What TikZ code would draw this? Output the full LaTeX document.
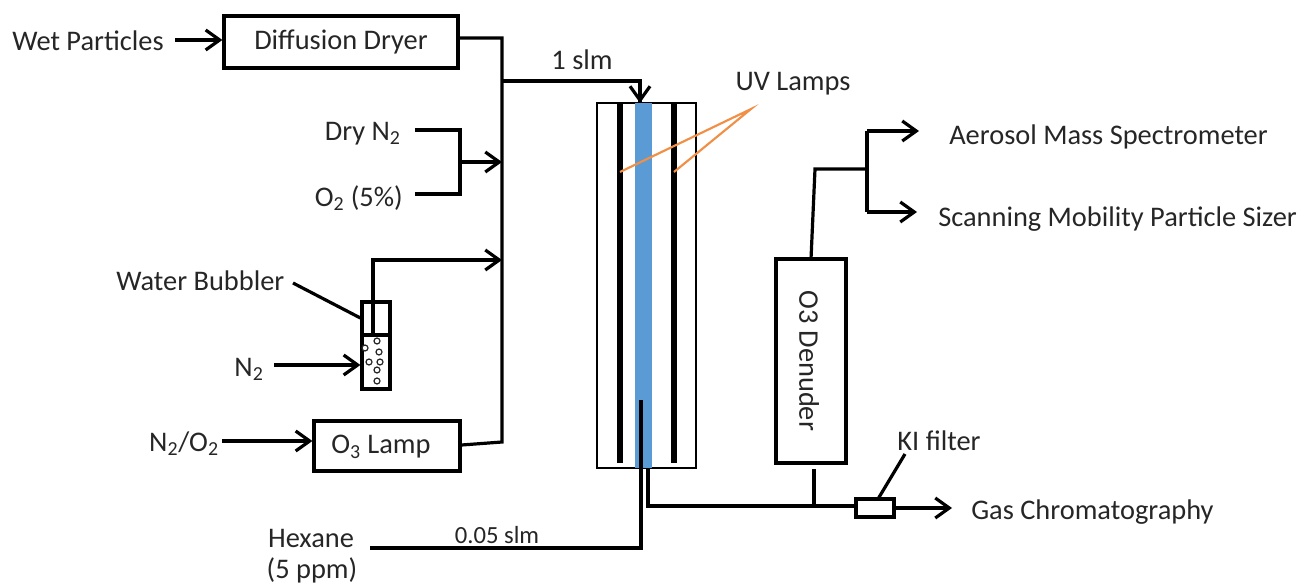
\documentclass[tikz,border=0pt]{standalone}
\usepackage{fontspec}
\setmainfont{Carlito}
\usetikzlibrary{arrows.meta}
\definecolor{txt}{HTML}{262626}
\definecolor{tube}{HTML}{5B9BD5}
\definecolor{uvline}{HTML}{F08F45}
\newcommand{\sbs}[1]{\textsubscript{#1}}
\tikzset{
  pipe/.style={draw=black,line width=2.4pt,line join=miter},
  flow/.style={pipe,-{Straight Barb[length=10.5pt,width=15pt,line width=2.4pt]}},
  boxa/.style={draw=black,line width=2.4pt,fill=white,inner sep=0pt,text=txt},
  thin wall/.style={draw=black,line width=1.4pt},
  lab/.style={text=txt,inner sep=0pt,font=\fontsize{21.3}{24}\selectfont},
  smalllab/.style={text=txt,inner sep=0pt,font=\fontsize{18.5}{20}\selectfont},
  uv/.style={draw=uvline,line width=1.6pt},
  bub/.style={draw=black!85,line width=.9pt,fill=white}
}
\begin{document}
\begin{tikzpicture}[x=0.75pt,y=-0.75pt]
\useasboundingbox (0,0) rectangle (1302,584);
% reactor
\node[thin wall,fill=white,minimum width=74.25pt,minimum height=273.75pt,inner sep=0pt] (reactor) at (646.5,285.5) {};
\node[fill=tube,minimum width=12.75pt,minimum height=273.75pt,inner sep=0pt] (tubeb) at (643.5,285.5) {};
\coordinate (lampAt) at (620,103); \coordinate (lampAb) at (620,463);
\coordinate (lampBt) at (674,103); \coordinate (lampBb) at (674,463);
\draw[line width=3.8pt] (lampAt) -- (lampAb);
\draw[line width=3.8pt] (lampBt) -- (lampBb);
% boxes
\node[boxa,lab,minimum width=175.5pt,minimum height=39pt] (dryer) at (341,42) {Diffusion Dryer};
\node[boxa,minimum width=109.5pt,minimum height=37.5pt] (lamp) at (387,446) {};
\node[lab] (lamptxt) at (381,447) {O\sbs{3} Lamp};
\node[boxa,minimum width=52.5pt,minimum height=153pt] (denuder) at (811,361) {};
\node[lab,rotate=-90] (dentxt) at (809,361) {O3 Denuder};
\node[boxa,minimum width=28.5pt,minimum height=13.5pt] (ki) at (875,508) {};
\node[boxa,draw=black,minimum width=21pt,minimum height=65.25pt] (bubbler) at (376,345.5) {};
% labels
\node[lab,anchor=west] (wet) at (12,41) {Wet Particles};
\node[lab,anchor=east] (dry) at (401,134) {Dry N\sbs{2}};
\node[lab,anchor=east] (oxy) at (403,198) {O\sbs{2} (5\%)};
\node[lab,anchor=west] (wb) at (116,281) {Water Bubbler};
\node[lab] (ntwo) at (249,369) {N\sbs{2}};
\node[lab] (nto) at (184,444) {N\sbs{2}/O\sbs{2}};
\node[lab] (hexa) at (311,538) {Hexane};
\node[lab] (hexb) at (312,570) {(5 ppm)};
\node[smalllab] (slmb) at (497,535) {0.05 slm};
\node[lab] (slma) at (582,60) {1 slm};
\node[lab] (uvl) at (793,84) {UV Lamps};
\node[lab,anchor=west] (ams) at (949,137) {Aerosol Mass Spectrometer};
\node[lab,anchor=west] (smps) at (938,219) {Scanning Mobility Particle Sizer};
\node[lab,anchor=west] (gc) at (971,512) {Gas Chromatography};
\node[lab] (kit) at (939,441) {KI filter};
% coordinates
\coordinate (mtop) at (502,38);
\coordinate (mbot) at (502,442);
\coordinate (mout) at (502,81);
\coordinate (mbubb) at (502,260);
\coordinate (mdry) at (502,162);
\coordinate (bend) at (640,81);
\coordinate (rtop) at (640,103);
\coordinate (dra) at (415,130);
\coordinate (drb) at (460,130);
\coordinate (drc) at (460,194);
\coordinate (drd) at (415,194);
\coordinate (dre) at (460,162);
\coordinate (tubea) at (373,335);
\coordinate (tubeb2) at (373,260);
\coordinate (hex1) at (370,548);
\coordinate (hex2) at (641,548);
\coordinate (hex3) at (641,400);
\coordinate (out1) at (648,468);
\coordinate (out2) at (648,506);
\coordinate (out3) at (814,506);
\coordinate (out4) at (814,469);
\coordinate (den1) at (811,259);
\coordinate (den2) at (815,169);
\coordinate (spl) at (867,169);
\coordinate (spla) at (867,131);
\coordinate (splb) at (867,212);
\coordinate (uvtip) at (751,109);
\coordinate (uva) at (620,172);
\coordinate (uvb) at (674,172);
% manifold
\draw[pipe] (dryer.east |- mtop) -- (mtop) -- (mbot) -- (lamp.east |- 0,445);
\draw[pipe] (mout) -- (bend) -- (rtop);
\draw[flow] (bend) -- (rtop);
\draw[pipe] (dra) -- (drb) -- (drc) -- (drd);
\draw[flow] (dre) -- (mdry);
\draw[flow] (tubea) -- (tubeb2) -- (mbubb);
\draw[flow] (175,40) coordinate (wa) -- (dryer.west |- wa);
\draw[pipe] (293,283) coordinate (wbl) -- (bubbler.west |- 0,318);
\draw[flow] (274,365) coordinate (na) -- (bubbler.west |- na);
\draw[flow] (222,441) coordinate (nb) -- (lamp.west |- nb);
% bubbler internals
\draw[line width=2.4pt] (bubbler.west |- tubea) -- (bubbler.east |- tubea);
\foreach \p/\q in {377/341,365/348,379/352,369/362,380/362,377/370,377/381}
  \draw[bub] (\p,\q) circle (3);
% UV lines
\draw[uv] (uva) -- (uvtip) -- (uvb);
% hexane + outlet
\draw[pipe] (hex1) -- (hex2) -- (hex3);
\draw[pipe] (out1) -- (out2) -- (ki.west |- out2);
\draw[pipe] (out3) -- (out4);
\draw[flow] (ki.east) -- (952,508);
\draw[pipe] (905,454) coordinate (kl) -- (878,499);
% denuder out
\draw[pipe] (den1) -- (den2) -- (spl);
\draw[pipe] (spla) -- (splb);
\draw[flow] (spla) -- (919,131);
\draw[flow] (splb) -- (917,212);
\end{tikzpicture}
\end{document}
